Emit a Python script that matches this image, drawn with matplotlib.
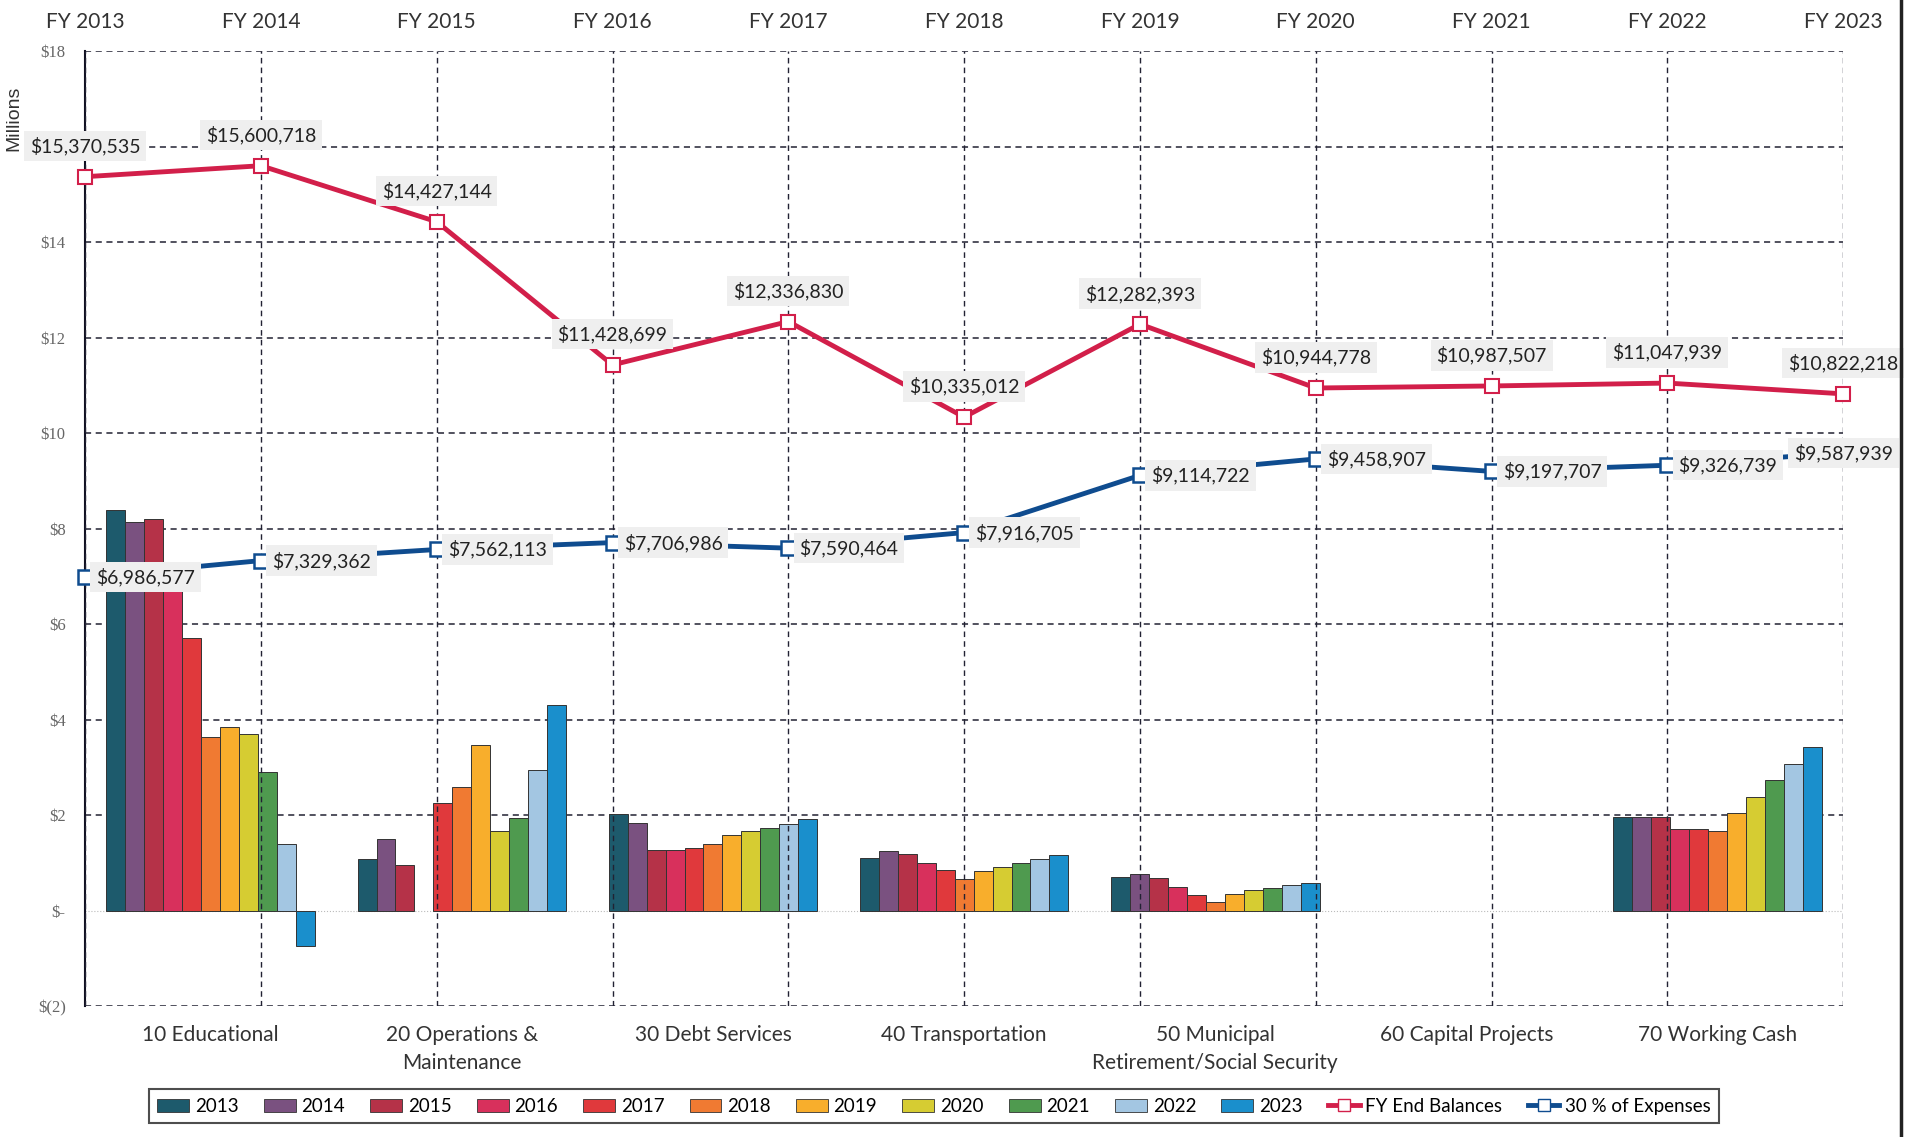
import numpy as np
import matplotlib.pyplot as plt
from matplotlib.lines import Line2D
from matplotlib.patches import Patch

plt.rcParams['font.family'] = ['Lato', 'DejaVu Sans']

# Bar data (millions) by fund, one list per year
funds = ['10 Educational', '20 Operations &\nMaintenance', '30 Debt Services',
         '40 Transportation', '50 Municipal\nRetirement/Social Security',
         '60 Capital Projects', '70 Working Cash']
years = ['2013', '2014', '2015', '2016', '2017', '2018', '2019', '2020', '2021', '2022', '2023']
y2013 = [8.38, 1.08, 2.02, 1.11, 0.70, 0.0, 1.95]
y2014 = [8.14, 1.50, 1.84, 1.24, 0.77, 0.0, 1.95]
y2015 = [8.21, 0.95, 1.26, 1.19, 0.69, 0.0, 1.95]
y2016 = [7.00, 0.00, 1.26, 1.00, 0.49, 0.0, 1.70]
y2017 = [5.71, 2.26, 1.31, 0.85, 0.32, 0.0, 1.70]
y2018 = [3.63, 2.59, 1.40, 0.67, 0.17, 0.0, 1.67]
y2019 = [3.84, 3.47, 1.58, 0.83, 0.34, 0.0, 2.05]
y2020 = [3.70, 1.67, 1.67, 0.92, 0.42, 0.0, 2.38]
y2021 = [2.91, 1.93, 1.72, 1.00, 0.48, 0.0, 2.73]
y2022 = [1.39, 2.94, 1.81, 1.07, 0.53, 0.0, 3.07]
y2023 = [-0.75, 4.31, 1.92, 1.16, 0.58, 0.0, 3.42]
bar_data = [y2013, y2014, y2015, y2016, y2017, y2018, y2019, y2020, y2021, y2022, y2023]
bar_colors = ['#1d5a6c', '#7a5180', '#b53248', '#d8305c', '#e0393c', '#f07a32',
              '#f8ae2c', '#d6cc32', '#4f9a4f', '#a3c6e2', '#1a8fcc']

# Line data
fy_labels = ['FY 2013', 'FY 2014', 'FY 2015', 'FY 2016', 'FY 2017', 'FY 2018',
             'FY 2019', 'FY 2020', 'FY 2021', 'FY 2022', 'FY 2023']
end_balances = [15370535, 15600718, 14427144, 11428699, 12336830, 10335012,
                12282393, 10944778, 10987507, 11047939, 10822218]
pct30_expenses = [6986577, 7329362, 7562113, 7706986, 7590464, 7916705,
                  9114722, 9458907, 9197707, 9326739, 9587939]

red = '#d21f4a'
blue = '#0f4c8f'

fig = plt.figure(figsize=(19.16, 11.37), dpi=100)
ax = fig.add_axes([0.0444, 0.1152, 0.9176, 0.8398])

# grouped bars
n = len(years)
group_w = 0.83
bw = group_w / n
xc = np.arange(len(funds)) + 0.5
for i, (vals, c) in enumerate(zip(bar_data, bar_colors)):
    xs = xc - group_w / 2 + bw * (i + 0.5)
    lws = [0.7 if v != 0 else 0 for v in vals]
    ax.bar(xs, vals, width=bw, color=c, edgecolor='#333333', linewidth=lws, zorder=3)

ax.set_xlim(0, len(funds))
ax.set_ylim(-2, 18)
ax.set_xticks(xc)
ax.set_xticklabels(funds, fontsize=15, color='#333333', linespacing=1.45)
ax.tick_params(axis='x', length=0, pad=14)
yt = np.arange(-2, 19, 2)
ax.set_yticks(yt)
ax.set_yticklabels(['$(2)' if v < 0 else ('$-' if v == 0 else f'${v}') for v in yt],
                   fontsize=12, color='#666666', family='Liberation Serif')
ax.tick_params(axis='y', length=0, pad=14)
for v in yt:
    if v == 0:
        ax.axhline(v, color='#bbbbbb', lw=0.8, ls=':', zorder=1)
    else:
        ax.axhline(v, color='#222233', lw=1.1, ls=(0, (4, 3)), zorder=1)
for s in ['top', 'right', 'bottom']:
    ax.spines[s].set_visible(False)
ax.spines['left'].set_color('#111122')
ax.spines['left'].set_linewidth(1.5)

# line series on the FY axis
ax2 = ax.twiny()
xl = np.arange(len(fy_labels))
ax2.set_xlim(0, len(fy_labels) - 1)
ax2.set_xticks(xl)
ax2.set_xticklabels(fy_labels, fontsize=15, color='#333333')
ax2.tick_params(axis='x', length=0, pad=14)
for s in ['top', 'right', 'bottom', 'left']:
    ax2.spines[s].set_visible(False)
for x in xl:
    ax2.axvline(x, color='#222233', lw=1.0, ls=(0, (4, 3)), zorder=1)

eb = np.array(end_balances) / 1e6
ex = np.array(pct30_expenses) / 1e6
ax2.plot(xl, eb, color=red, lw=3.5, marker='s', ms=10, mfc='white', mec=red, mew=1.5,
         zorder=5, clip_on=False)
ax2.plot(xl, ex, color=blue, lw=3.5, marker='s', ms=10, mfc='white', mec=blue, mew=1.8,
         zorder=5, clip_on=False)

box = dict(boxstyle='square,pad=0.3', fc='#efefef', ec='none')
for x, v, raw in zip(xl, eb, end_balances):
    ax2.annotate(f'${raw:,}', (x, v), xytext=(0, 22), textcoords='offset points',
                 ha='center', va='center', fontsize=14, color='#222222', bbox=box,
                 zorder=6, annotation_clip=False)
for x, v, raw in zip(xl, ex, pct30_expenses):
    if x == xl[-1]:
        off, ha = (0, 0), 'center'
    else:
        off, ha = (8, 0), 'left'
    ax2.annotate(f'${raw:,}', (x, v), xytext=off, textcoords='offset points',
                 ha=ha, va='center', fontsize=14, color='#222222', bbox=box,
                 zorder=6, annotation_clip=False)

fig.text(0.003, 0.896, 'Millions', rotation=90, fontsize=14, color='#333333',
         family='Liberation Sans', ha='left', va='center')

# frame edge from the scan
fig.add_artist(Line2D([0.992, 0.992], [0.0, 1.0], color='#222222', lw=2.5,
                      transform=fig.transFigure))

handles = [Patch(fc=c, ec='#333333', lw=0.6) for c in bar_colors]
handles += [Line2D([], [], color=red, lw=3.5, marker='s', ms=9, mfc='white', mec=red),
            Line2D([], [], color=blue, lw=3.5, marker='s', ms=9, mfc='white', mec=blue)]
leg = fig.legend(handles, years + ['FY End Balances', '30 % of Expenses'],
                 loc='lower center', bbox_to_anchor=(0.4875, 0.004), ncol=13,
                 fontsize=13.5, frameon=True, fancybox=False, handlelength=1.7,
                 handletextpad=0.3, columnspacing=1.35, borderpad=0.45)
leg.get_frame().set_edgecolor('#222222')
leg.get_frame().set_linewidth(1.5)

fig.savefig('out.png', dpi=100)
